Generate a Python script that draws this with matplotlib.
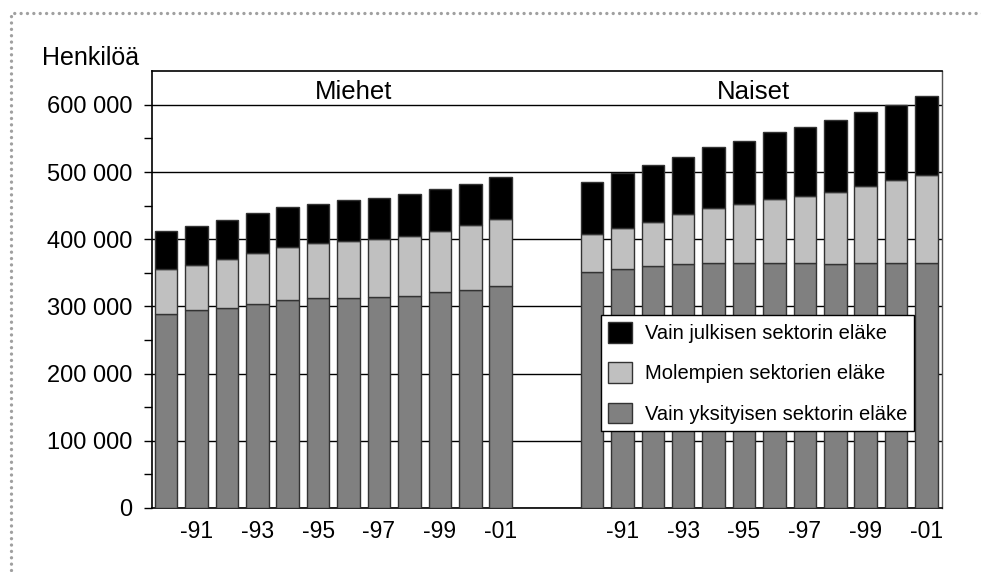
import numpy as np
import matplotlib.pyplot as plt
from matplotlib.patches import Rectangle

plt.rcParams['font.family'] = ['Liberation Sans', 'DejaVu Sans']

# data (persons), years 1990-2001
years = ['-90', '-91', '-92', '-93', '-94', '-95', '-96', '-97', '-98', '-99', '-00', '-01']
groups = ['Miehet', 'Naiset']
series = ['Vain julkisen sektorin eläke', 'Molempien sektorien eläke', 'Vain yksityisen sektorin eläke']

men_private = [288, 294, 298, 304, 310, 312, 313, 314, 315, 321, 324, 330]
men_both_top = [355, 361, 371, 379, 389, 394, 398, 401, 405, 412, 421, 430]
men_total = [412, 419, 428, 439, 448, 453, 458, 462, 468, 475, 482, 493]

women_private = [351, 356, 360, 363, 365, 365, 365, 365, 363, 365, 365, 365]
women_both_top = [408, 417, 426, 437, 446, 452, 460, 465, 471, 480, 488, 495]
women_total = [485, 499, 510, 523, 538, 547, 560, 567, 577, 589, 600, 613]

colors = ['#000000', '#c0c0c0', '#808080']


fig = plt.figure(figsize=(9.81, 5.72), dpi=100)
ax = fig.add_axes([0.155, 0.112, 0.805, 0.7633])

def stack(x, private, both_top, total):
    private = np.array(private) * 1000
    both = np.array(both_top) * 1000 - private
    public = np.array(total) * 1000 - np.array(both_top) * 1000
    kw = dict(width=0.74, edgecolor='#333333', linewidth=1, zorder=3)
    ax.bar(x, private, color=colors[2], **kw)
    ax.bar(x, both, bottom=private, color=colors[1], **kw)
    ax.bar(x, public, bottom=private + both, color=colors[0], **kw)

x_men = np.arange(12)
x_women = np.arange(12) + 14
stack(x_men, men_private, men_both_top, men_total)
stack(x_women, women_private, women_both_top, women_total)

ax.set_xlim(-0.46, 25.5)
ax.set_ylim(0, 650000)

ax.set_yticks(np.arange(0, 700000, 100000))
ax.set_yticklabels(['0', '100 000', '200 000', '300 000', '400 000', '500 000', '600 000'])
ax.set_yticks(np.arange(50000, 650000, 100000), minor=True)
ax.tick_params(axis='y', which='both', direction='out', length=6, width=1, labelsize=17, pad=8)
ax.yaxis.grid(True, color='black', linewidth=1, zorder=0)
ax.set_axisbelow(True)

ticks = list(x_men[1::2]) + list(x_women[1::2])
ax.set_xticks(ticks)
ax.set_xticklabels(years[1::2] * 2)
ax.tick_params(axis='x', length=0, labelsize=16.5, pad=9)

for s in ['left', 'bottom', 'top']:
    ax.spines[s].set_color('black')
    ax.spines[s].set_linewidth(1.2)
ax.spines['right'].set_color('#555555')
ax.spines['right'].set_linewidth(1)

ax.text(6.15, 609000, groups[0], ha='center', va='baseline', fontsize=18.5)
ax.text(19.3, 609000, groups[1], ha='center', va='baseline', fontsize=18.5)

fig.text(0.043, 0.886, 'Henkilöä', fontsize=18, ha='left', va='baseline')

handles = [Rectangle((0, 0), 1, 1, facecolor=c, edgecolor='#333333', linewidth=1) for c in colors]
leg = ax.legend(handles, series, loc='upper left', bbox_to_anchor=(0.568, 0.442),
                fontsize=14.5, frameon=True, fancybox=False, edgecolor='black',
                handlelength=1.2, handleheight=1.2, handletextpad=0.65,
                labelspacing=0.95, borderpad=0.35, borderaxespad=0)
leg.get_frame().set_linewidth(1)
leg.get_frame().set_alpha(1)

# dotted border round the figure
fig.patches.append(Rectangle((0.0109, -0.05), 1.1, 1.028, transform=fig.transFigure,
                             fill=False, edgecolor='#a0a0a0', linewidth=2.4,
                             linestyle=(0, (0.01, 1.9)), capstyle='round', figure=fig))

fig.savefig('out.png', dpi=100)
